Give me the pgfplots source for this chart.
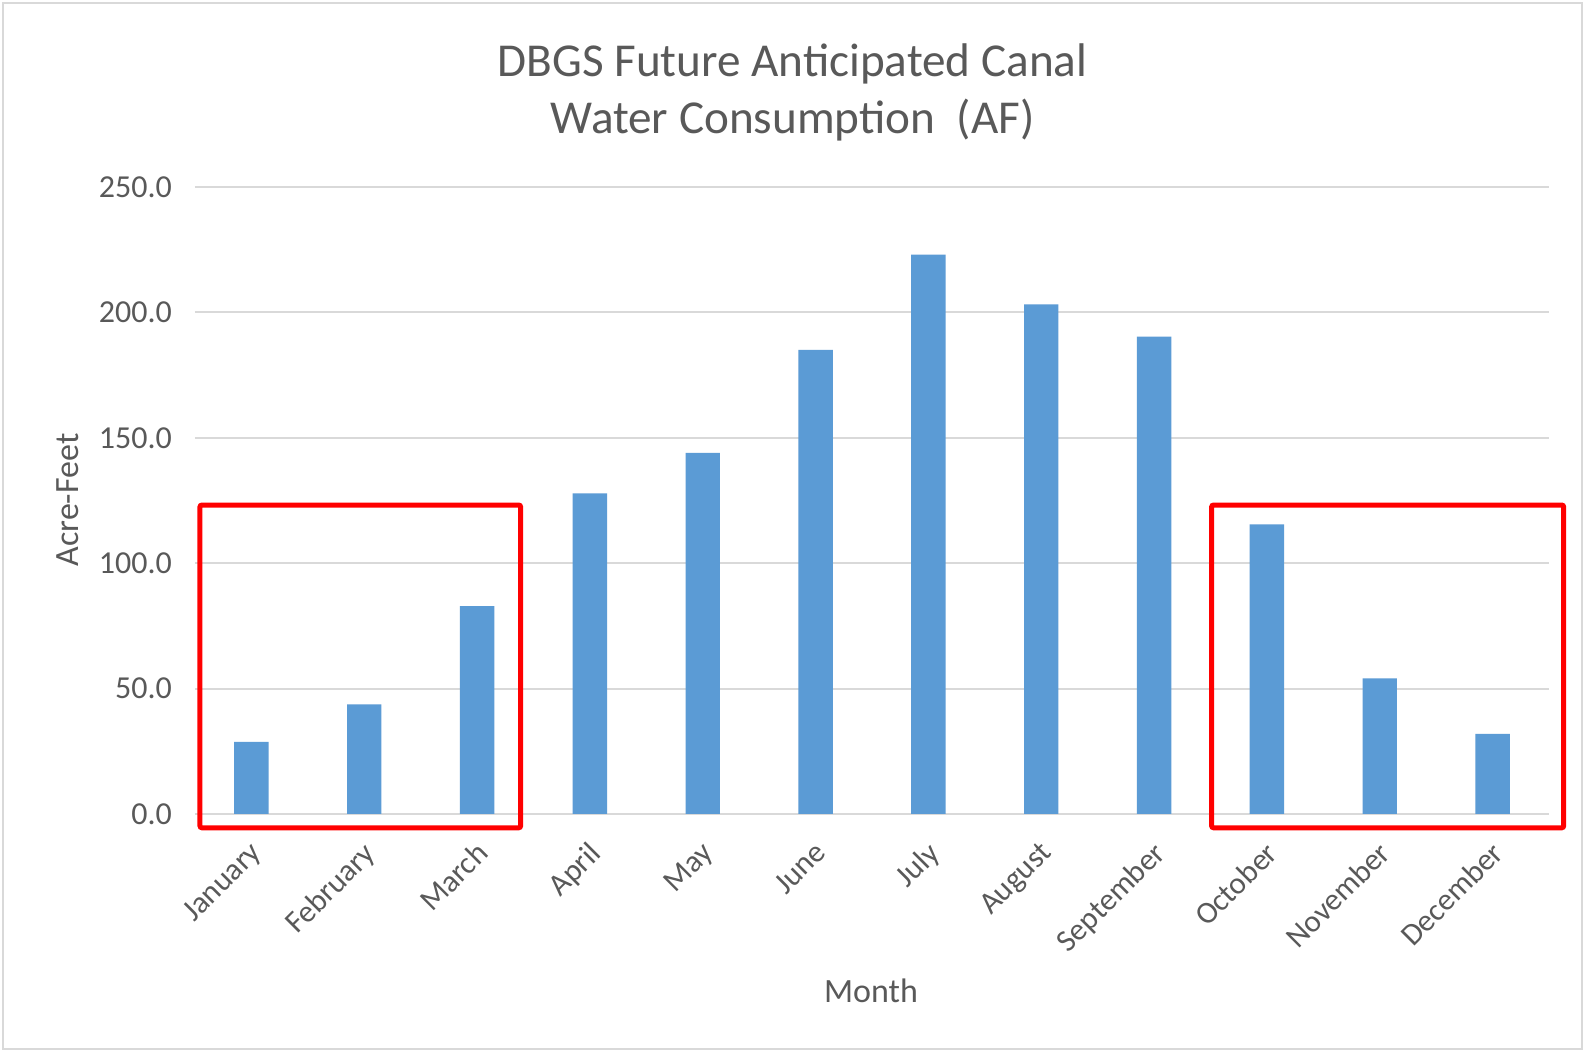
\documentclass[border=0pt]{standalone}
\usepackage{fontspec}
\setmainfont{Carlito}
\usepackage{pgfplots}
\pgfplotsset{compat=1.18}
\definecolor{barblue}{HTML}{5B9BD5}
\definecolor{txt}{HTML}{595959}
\definecolor{gridc}{HTML}{D9D9D9}
\definecolor{framec}{HTML}{D9D9D9}
\begin{document}
\begin{tikzpicture}[x=1pt,y=1pt]
\useasboundingbox (-97.5,-119) rectangle (695,407);
\fill[white] (-97.5,-119) rectangle (695,407);
\draw[framec, line width=1pt] (-96,-117.5) rectangle (693.5,405.5);
\begin{axis}[
  at={(0,0)}, anchor=south west,
  width=677pt, height=313.5pt, scale only axis,
  clip=false,
  xmin=-0.5, xmax=11.5, ymin=0, ymax=250,
  ytick={0,50,100,150,200,250},
  xtick={0,1,2,3,4,5,6,7,8,9,10,11},
  xticklabels={January,February,March,April,May,June,July,August,September,October,November,December},
  axis line style={draw=none},
  major tick length=0pt,
  tick style={draw=none},
  ymajorgrids,
  major grid style={gridc, line width=1pt},
  /pgf/number format/assume math mode=true,
  /pgf/number format/fixed,
  /pgf/number format/fixed zerofill,
  /pgf/number format/precision=1,
  yticklabel style={font=\fontsize{16}{16}\selectfont, text=txt, xshift=-8pt},
  xticklabel style={font=\fontsize{15.5}{15.5}\selectfont, text=txt, xshift=-1.3pt, yshift=-8.1pt, rotate=45, anchor=north east},
]
\addplot[ybar, bar width=0.305, fill=barblue, draw=none] coordinates {
(0,28.8) (1,43.7) (2,82.9) (3,127.8) (4,144.0) (5,185.1)
(6,223.0) (7,203.2) (8,190.3) (9,115.5) (10,54.1) (11,31.9)};
\draw[red, line width=2.5pt, rounded corners=1pt] (axis cs:-0.456,-5.5) rectangle (axis cs:2.386,123.2);
\draw[red, line width=2.5pt, rounded corners=1pt] (axis cs:8.51,-5.5) rectangle (axis cs:11.63,123.2);
\end{axis}
\node[text=txt, font=\fontsize{23.6}{28.5}\selectfont, align=center] at (298.75,361) {DBGS Future Anticipated Canal\\Water Consumption\ \ (AF)};
\node[text=txt, font=\fontsize{17}{17}\selectfont, rotate=90] at (-63.5,157) {Acre-Feet};
\node[text=txt, font=\fontsize{17}{17}\selectfont] at (338,-88.5) {Month};
\end{tikzpicture}
\end{document}
